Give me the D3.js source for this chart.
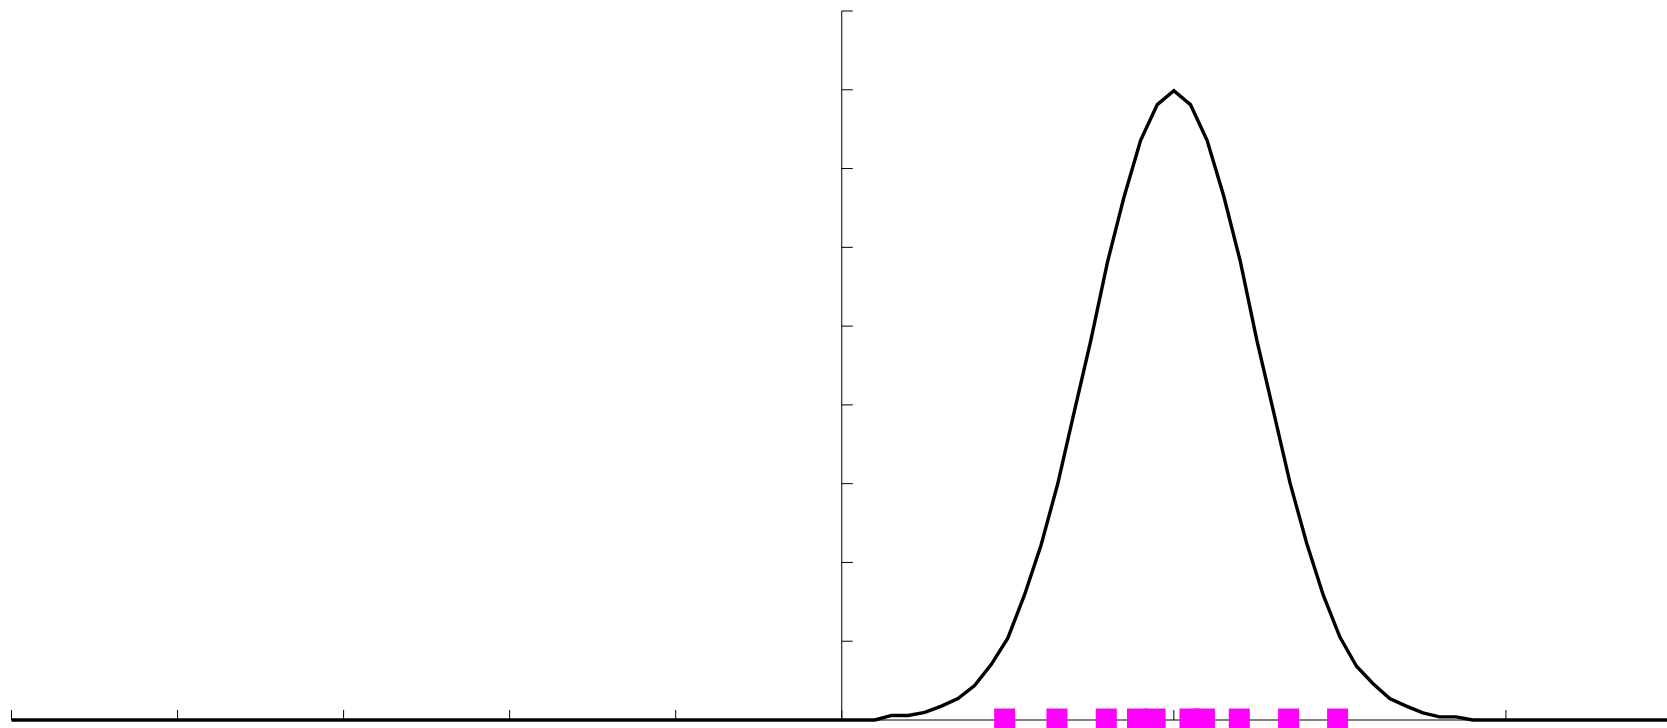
<!DOCTYPE html>
<html>
<head>
<meta charset="utf-8">
<script src="https://cdn.jsdelivr.net/npm/d3@7"></script>
<style>
  body { margin: 0; background: #fff; }
  svg { display: block; }
</style>
</head>
<body>
<div id="kde"></div>
<script>
// sample points (magenta squares)
const samples = [0.981, 1.296, 1.593, 1.781, 1.887, 2.097, 2.184, 2.394, 2.691, 2.986];

// estimated density on the grid -5 .. 5 (step 0.1)
const density = [
  0, 0, 0, 0, 0, 0, 0, 0, 0, 0,          // -5.0 .. -4.1
  0, 0, 0, 0, 0, 0, 0, 0, 0, 0,          // -4.0 .. -3.1
  0, 0, 0, 0, 0, 0, 0, 0, 0, 0,          // -3.0 .. -2.1
  0, 0, 0, 0, 0, 0, 0, 0, 0, 0,          // -2.0 .. -1.1
  0, 0, 0, 0, 0, 0, 0, 0, 0, 0,          // -1.0 .. -0.1
  0, 0, 0, 0.0029, 0.0029, 0.0048, 0.0088, 0.0136, 0.0219, 0.0352,     // 0.0 .. 0.9
  0.0519, 0.0792, 0.1109, 0.1496, 0.1955, 0.2410, 0.2905, 0.3320, 0.3679, 0.3906, // 1.0 .. 1.9
  0.3994, 0.3906, 0.3679, 0.3327, 0.2912, 0.2410, 0.1959, 0.1503, 0.1122, 0.0792, // 2.0 .. 2.9
  0.0526, 0.0341, 0.0230, 0.0136, 0.0088, 0.0045, 0.0020, 0.0020, 0, 0,          // 3.0 .. 3.9
  0, 0, 0, 0, 0, 0, 0, 0, 0, 0,          // 4.0 .. 4.9
  0                                      // 5.0
];
const gridX = d3.range(-50, 51).map(i => i / 10);

const xTicks = [-5, -4, -3, -2, -1, 0, 1, 2, 3, 4, 5];
const yTicks = [0, 0.05, 0.1, 0.15, 0.2, 0.25, 0.3, 0.35, 0.4, 0.45];

let width = 1667,
  height = 728;

let svg = d3.select("#kde")
  .append("svg")
  .attr("width", width)
  .attr("height", height);

let x = d3.scaleLinear()
  .domain([-5, 5])
  .range([11.5, 1672]);

let y = d3.scaleLinear()
  .domain([0, 0.45])
  .range([720, 11]);

// x axis, ticks pointing up
svg.append("g")
  .attr("transform", `translate(0,${y(0)})`)
  .call(d3.axisTop(x).tickValues(xTicks).tickSize(10).tickSizeOuter(0).tickFormat("").offset(0))
  .call(g => g.selectAll("line").attr("stroke", "#000"));

// y axis through zero, ticks pointing right
svg.append("g")
  .attr("transform", `translate(${x(0)},0)`)
  .call(d3.axisRight(y).tickValues(yTicks).tickSize(11).tickSizeOuter(0).tickFormat("").offset(0));

let line = d3.line()
  .x((d, i) => x(gridX[i]))
  .y(d => y(d));

svg.append("path")
  .datum(density)
  .attr("fill", "none")
  .attr("stroke", "#000")
  .attr("stroke-width", 3.4)
  .attr("stroke-linejoin", "miter")
  .attr("d", line);

let s = 21;
svg.append("g")
  .selectAll("rect")
  .data(samples)
  .join("rect")
  .attr("x", d => x(d) - s / 2)
  .attr("y", y(0) - s / 2 - 1)
  .attr("width", s)
  .attr("height", s)
  .attr("fill", "#ff00ff");
</script>
</body>
</html>
